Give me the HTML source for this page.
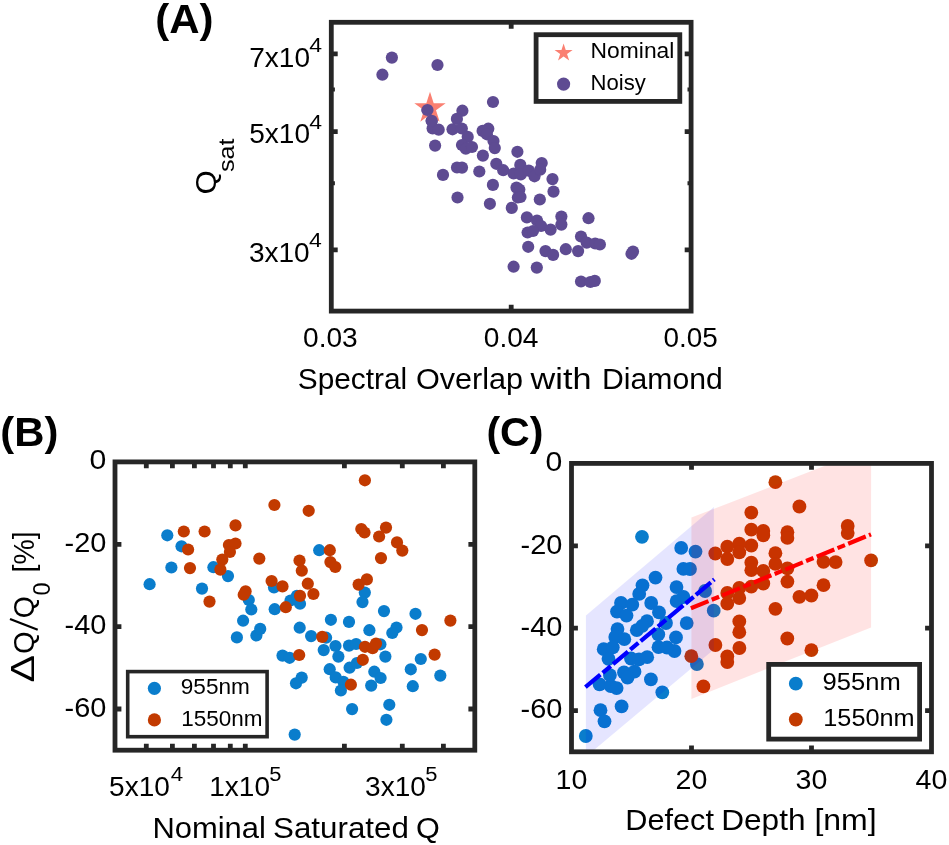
<!DOCTYPE html><html><head><meta charset="utf-8"><title>Figure</title><style>
html,body{margin:0;padding:0;background:#fff;width:949px;height:845px;overflow:hidden}
svg{display:block;will-change:transform}text{font-family:"Liberation Sans",sans-serif;fill:#000}
</style></head><body>
<svg width="949" height="845" viewBox="0 0 949 845">
<rect width="949" height="845" fill="#fff"/>
<text x="155.3" y="33.1" font-size="40.0" textLength="58.3" lengthAdjust="spacingAndGlyphs" font-weight="bold">(A)</text>
<rect x="331.3" y="22.3" width="359.8" height="288.8" fill="none" stroke="#262626" stroke-width="4.8" stroke-linejoin="miter"/><path d="M331.3,249.9H337.7 M691.1,249.9H684.7 M331.3,131.7H337.7 M691.1,131.7H684.7 M331.3,53.9H337.7 M691.1,53.9H684.7 M511.2,311.1V304.7 M511.2,22.3V28.7 " stroke="#262626" stroke-width="4.8"/>
<path d="M331.3,183.3H334.9 M691.1,183.3H687.5 M331.3,89.6H334.9 M691.1,89.6H687.5 " stroke="#262626" stroke-width="4.0"/>
<g>
<text x="249.2" y="67.0" font-size="28.5" textLength="60.8" lengthAdjust="spacingAndGlyphs" class="t">7x10</text>
<text x="309.3" y="51.6" font-size="20.5" textLength="12.8" lengthAdjust="spacingAndGlyphs">4</text>
<text x="249.2" y="143.3" font-size="28.5" textLength="60.8" lengthAdjust="spacingAndGlyphs" class="t">5x10</text>
<text x="309.3" y="129.0" font-size="20.5" textLength="12.8" lengthAdjust="spacingAndGlyphs">4</text>
<text x="248.9" y="261.9" font-size="28.5" textLength="60.8" lengthAdjust="spacingAndGlyphs" class="t">3x10</text>
<text x="309.0" y="247.0" font-size="20.5" textLength="12.8" lengthAdjust="spacingAndGlyphs">4</text>
<text x="303.0" y="347.3" font-size="28.5" textLength="54.7" lengthAdjust="spacingAndGlyphs" class="t">0.03</text>
<text x="483.8" y="347.3" font-size="28.5" textLength="54.7" lengthAdjust="spacingAndGlyphs" class="t">0.04</text>
<text x="663.4" y="347.3" font-size="28.5" textLength="54.3" lengthAdjust="spacingAndGlyphs" class="t">0.05</text>
<text x="297.8" y="389.2" font-size="30.0" textLength="109.4" lengthAdjust="spacingAndGlyphs" class="t">Spectral</text><text x="415.9" y="389.2" font-size="30.0" textLength="107.2" lengthAdjust="spacingAndGlyphs" class="t">Overlap</text><text x="530.6" y="389.2" font-size="30.0" textLength="60.9" lengthAdjust="spacingAndGlyphs" class="t">with</text><text x="602.0" y="389.2" font-size="30.0" textLength="120.8" lengthAdjust="spacingAndGlyphs" class="t">Diamond</text>
<g transform="translate(216,193) rotate(-90)"><text x="-1.4" y="0.0" font-size="29.0" textLength="24.3" lengthAdjust="spacingAndGlyphs" class="t">Q</text><text x="20.9" y="18.0" font-size="22.0" textLength="33.7" lengthAdjust="spacingAndGlyphs">sat</text></g>
</g>
<g fill="#5e4b92"><circle cx="391.9" cy="57.6" r="6.10"/><circle cx="382.4" cy="74.7" r="6.10"/><circle cx="437.5" cy="65.0" r="6.10"/><circle cx="427.5" cy="110.0" r="6.10"/><circle cx="431.7" cy="120.8" r="6.10"/><circle cx="432.6" cy="128.4" r="6.10"/><circle cx="438.7" cy="129.7" r="6.10"/><circle cx="435.1" cy="145.6" r="6.10"/><circle cx="462.4" cy="110.7" r="6.10"/><circle cx="456.9" cy="118.9" r="6.10"/><circle cx="452.5" cy="129.3" r="6.10"/><circle cx="461.8" cy="128.5" r="6.10"/><circle cx="467.7" cy="136.9" r="6.10"/><circle cx="462.0" cy="145.0" r="6.10"/><circle cx="465.8" cy="148.7" r="6.10"/><circle cx="472.0" cy="147.0" r="6.10"/><circle cx="493.0" cy="102.0" r="6.10"/><circle cx="488.3" cy="128.7" r="6.10"/><circle cx="482.6" cy="130.9" r="6.10"/><circle cx="486.9" cy="134.3" r="6.10"/><circle cx="493.5" cy="141.0" r="6.10"/><circle cx="494.8" cy="148.1" r="6.10"/><circle cx="482.9" cy="155.6" r="6.10"/><circle cx="496.3" cy="163.8" r="6.10"/><circle cx="503.2" cy="170.2" r="6.10"/><circle cx="457.0" cy="167.5" r="6.10"/><circle cx="462.0" cy="167.6" r="6.10"/><circle cx="479.3" cy="171.5" r="6.10"/><circle cx="443.0" cy="174.9" r="6.10"/><circle cx="492.9" cy="184.9" r="6.10"/><circle cx="489.9" cy="203.8" r="6.10"/><circle cx="457.5" cy="197.5" r="6.10"/><circle cx="517.4" cy="151.8" r="6.10"/><circle cx="513.6" cy="173.5" r="6.10"/><circle cx="520.3" cy="164.9" r="6.10"/><circle cx="520.8" cy="174.4" r="6.10"/><circle cx="528.8" cy="170.6" r="6.10"/><circle cx="534.5" cy="176.3" r="6.10"/><circle cx="541.7" cy="163.0" r="6.10"/><circle cx="540.2" cy="169.7" r="6.10"/><circle cx="552.5" cy="179.1" r="6.10"/><circle cx="553.5" cy="191.6" r="6.10"/><circle cx="539.8" cy="199.5" r="6.10"/><circle cx="516.5" cy="187.6" r="6.10"/><circle cx="519.3" cy="189.5" r="6.10"/><circle cx="517.9" cy="197.5" r="6.10"/><circle cx="511.8" cy="207.9" r="6.10"/><circle cx="526.9" cy="217.4" r="6.10"/><circle cx="537.0" cy="220.5" r="6.10"/><circle cx="541.1" cy="226.0" r="6.10"/><circle cx="550.6" cy="229.6" r="6.10"/><circle cx="561.4" cy="216.6" r="6.10"/><circle cx="561.4" cy="224.6" r="6.10"/><circle cx="527.6" cy="232.5" r="6.10"/><circle cx="533.0" cy="231.0" r="6.10"/><circle cx="588.5" cy="218.2" r="6.10"/><circle cx="581.0" cy="236.5" r="6.10"/><circle cx="586.7" cy="242.6" r="6.10"/><circle cx="595.2" cy="243.5" r="6.10"/><circle cx="599.9" cy="244.5" r="6.10"/><circle cx="578.1" cy="251.1" r="6.10"/><circle cx="565.8" cy="249.2" r="6.10"/><circle cx="545.5" cy="251.1" r="6.10"/><circle cx="553.1" cy="254.9" r="6.10"/><circle cx="528.2" cy="246.8" r="6.10"/><circle cx="513.6" cy="266.7" r="6.10"/><circle cx="536.8" cy="267.6" r="6.10"/><circle cx="581.0" cy="281.5" r="6.10"/><circle cx="590.4" cy="282.0" r="6.10"/><circle cx="594.8" cy="280.9" r="6.10"/><circle cx="633.0" cy="251.5" r="6.10"/><circle cx="631.5" cy="253.8" r="6.10"/><circle cx="520.5" cy="197.0" r="6.10"/></g>
<path d="M430.00,91.80 L433.70,103.20 L445.69,103.20 L435.99,110.25 L439.70,121.65 L430.00,114.60 L420.30,121.65 L424.01,110.25 L414.31,103.20 L426.30,103.20Z" fill="#fa8072"/>
<g fill="#5e4b92"><circle cx="431.7" cy="120.8" r="6.10"/><circle cx="427.5" cy="110.0" r="6.10"/></g>
<rect x="536.1" y="34.7" width="143.7" height="66.7" fill="#fff" stroke="#262626" stroke-width="4.8"/>
<path d="M563.60,43.40 L565.73,49.96 L572.64,49.96 L567.05,54.02 L569.18,60.59 L563.60,56.53 L558.02,60.59 L560.15,54.02 L554.56,49.96 L561.47,49.96Z" fill="#fa8072"/>
<circle cx="563.6" cy="84.1" r="6.6" fill="#5e4b92"/>
<text x="590.6" y="58.0" font-size="22.0" textLength="83.8" lengthAdjust="spacingAndGlyphs">Nominal</text>
<text x="590.6" y="90.2" font-size="22.0" textLength="55.3" lengthAdjust="spacingAndGlyphs">Noisy</text>
<text x="0.3" y="445.8" font-size="40.0" textLength="58.0" lengthAdjust="spacingAndGlyphs" font-weight="bold">(B)</text>
<rect x="115.0" y="461.9" width="359.8" height="288.3" fill="none" stroke="#262626" stroke-width="4.8" stroke-linejoin="miter"/><path d="M115.0,544.3H121.4 M474.8,544.3H468.4 M115.0,626.6H121.4 M474.8,626.6H468.4 M115.0,709.0H121.4 M474.8,709.0H468.4 M146.3,750.2V743.8 M146.3,461.9V468.3 M172.4,750.2V743.8 M172.4,461.9V468.3 M194.4,750.2V743.8 M194.4,461.9V468.3 M213.5,750.2V743.8 M213.5,461.9V468.3 M230.3,750.2V743.8 M230.3,461.9V468.3 M245.3,750.2V743.8 M245.3,461.9V468.3 M344.4,750.2V743.8 M344.4,461.9V468.3 M402.3,750.2V743.8 M402.3,461.9V468.3 M443.4,750.2V743.8 M443.4,461.9V468.3 " stroke="#262626" stroke-width="4.8"/>
<text x="106.4" y="469.4" font-size="28.5" textLength="16.8" lengthAdjust="spacingAndGlyphs" text-anchor="end" class="t">0</text>
<text x="106.4" y="551.8" font-size="28.5" textLength="41.8" lengthAdjust="spacingAndGlyphs" text-anchor="end" class="t">-20</text>
<text x="106.4" y="634.1" font-size="28.5" textLength="41.8" lengthAdjust="spacingAndGlyphs" text-anchor="end" class="t">-40</text>
<text x="106.4" y="716.5" font-size="28.5" textLength="41.8" lengthAdjust="spacingAndGlyphs" text-anchor="end" class="t">-60</text>
<text x="109.1" y="795.8" font-size="28.5" textLength="60.8" lengthAdjust="spacingAndGlyphs" class="t">5x10</text>
<text x="170.7" y="781.1" font-size="20.5" textLength="12.4" lengthAdjust="spacingAndGlyphs">4</text>
<text x="209.2" y="795.8" font-size="28.5" textLength="60.8" lengthAdjust="spacingAndGlyphs" class="t">1x10</text>
<text x="269.3" y="781.1" font-size="20.5" textLength="12.2" lengthAdjust="spacingAndGlyphs">5</text>
<text x="365.1" y="795.8" font-size="28.5" textLength="60.8" lengthAdjust="spacingAndGlyphs" class="t">3x10</text>
<text x="425.2" y="781.1" font-size="20.5" textLength="12.2" lengthAdjust="spacingAndGlyphs">5</text>
<text x="152.4" y="837.6" font-size="30.0" textLength="113.5" lengthAdjust="spacingAndGlyphs" class="t">Nominal</text><text x="273.1" y="837.6" font-size="30.0" textLength="135.7" lengthAdjust="spacingAndGlyphs" class="t">Saturated</text><text x="416.0" y="837.6" font-size="30.0" textLength="23.8" lengthAdjust="spacingAndGlyphs" class="t">Q</text>
<g transform="translate(34,681) rotate(-90)"><text x="-1.5" y="0.0" font-size="33.5" textLength="27.5" lengthAdjust="spacingAndGlyphs" class="t">&#916;</text><text x="27.1" y="0.0" font-size="29.0" textLength="22.7" lengthAdjust="spacingAndGlyphs" class="t">Q</text><path d="M51.3,3.7 L62,-24" stroke="#000" stroke-width="2.3"/><text x="62.7" y="0.0" font-size="29.0" textLength="22.0" lengthAdjust="spacingAndGlyphs" class="t">Q</text><text x="85.6" y="15.8" font-size="24.0" textLength="13.1" lengthAdjust="spacingAndGlyphs">0</text><text x="108.6" y="0.0" font-size="29.0" textLength="41.0" lengthAdjust="spacingAndGlyphs" class="t">[%]</text></g>
<g fill="#0a7dcc"><circle cx="167.3" cy="535.3" r="6.10"/><circle cx="181.5" cy="546.3" r="6.10"/><circle cx="171.4" cy="567.5" r="6.10"/><circle cx="149.6" cy="584.2" r="6.10"/><circle cx="213.4" cy="567.2" r="6.10"/><circle cx="228.0" cy="576.1" r="6.10"/><circle cx="202.0" cy="588.6" r="6.10"/><circle cx="248.8" cy="600.0" r="6.10"/><circle cx="274.0" cy="587.5" r="6.10"/><circle cx="274.7" cy="609.2" r="6.10"/><circle cx="290.5" cy="600.5" r="6.10"/><circle cx="300.0" cy="603.7" r="6.10"/><circle cx="296.9" cy="595.8" r="6.10"/><circle cx="251.3" cy="609.5" r="6.10"/><circle cx="243.1" cy="620.7" r="6.10"/><circle cx="236.9" cy="637.4" r="6.10"/><circle cx="256.4" cy="635.5" r="6.10"/><circle cx="260.2" cy="628.9" r="6.10"/><circle cx="282.5" cy="655.6" r="6.10"/><circle cx="289.6" cy="657.8" r="6.10"/><circle cx="301.7" cy="677.6" r="6.10"/><circle cx="296.0" cy="683.3" r="6.10"/><circle cx="294.7" cy="734.6" r="6.10"/><circle cx="364.8" cy="592.6" r="6.10"/><circle cx="362.5" cy="602.1" r="6.10"/><circle cx="384.0" cy="611.1" r="6.10"/><circle cx="415.5" cy="613.8" r="6.10"/><circle cx="330.9" cy="619.8" r="6.10"/><circle cx="349.0" cy="621.9" r="6.10"/><circle cx="369.4" cy="630.2" r="6.10"/><circle cx="396.5" cy="627.5" r="6.10"/><circle cx="392.3" cy="633.0" r="6.10"/><circle cx="299.7" cy="627.7" r="6.10"/><circle cx="311.1" cy="636.1" r="6.10"/><circle cx="326.1" cy="637.7" r="6.10"/><circle cx="323.7" cy="650.1" r="6.10"/><circle cx="335.5" cy="646.0" r="6.10"/><circle cx="338.4" cy="656.6" r="6.10"/><circle cx="349.0" cy="645.6" r="6.10"/><circle cx="356.1" cy="644.0" r="6.10"/><circle cx="380.4" cy="644.3" r="6.10"/><circle cx="385.4" cy="656.6" r="6.10"/><circle cx="349.6" cy="667.7" r="6.10"/><circle cx="356.9" cy="663.0" r="6.10"/><circle cx="329.7" cy="669.2" r="6.10"/><circle cx="335.7" cy="677.4" r="6.10"/><circle cx="343.4" cy="681.8" r="6.10"/><circle cx="340.9" cy="690.5" r="6.10"/><circle cx="374.3" cy="671.7" r="6.10"/><circle cx="380.6" cy="678.0" r="6.10"/><circle cx="371.2" cy="685.6" r="6.10"/><circle cx="410.8" cy="669.3" r="6.10"/><circle cx="412.8" cy="686.2" r="6.10"/><circle cx="420.8" cy="659.0" r="6.10"/><circle cx="440.3" cy="675.6" r="6.10"/><circle cx="389.3" cy="704.8" r="6.10"/><circle cx="386.4" cy="719.8" r="6.10"/><circle cx="352.1" cy="709.1" r="6.10"/><circle cx="319.2" cy="550.2" r="6.10"/></g>
<g fill="#c23a00"><circle cx="183.8" cy="531.5" r="6.10"/><circle cx="204.6" cy="531.5" r="6.10"/><circle cx="188.1" cy="549.5" r="6.10"/><circle cx="190.0" cy="568.1" r="6.10"/><circle cx="235.5" cy="525.4" r="6.10"/><circle cx="228.9" cy="545.0" r="6.10"/><circle cx="235.5" cy="543.5" r="6.10"/><circle cx="229.9" cy="552.0" r="6.10"/><circle cx="222.3" cy="559.6" r="6.10"/><circle cx="220.4" cy="569.6" r="6.10"/><circle cx="259.3" cy="558.6" r="6.10"/><circle cx="274.4" cy="505.0" r="6.10"/><circle cx="271.6" cy="581.0" r="6.10"/><circle cx="282.5" cy="586.4" r="6.10"/><circle cx="245.6" cy="591.3" r="6.10"/><circle cx="243.7" cy="594.7" r="6.10"/><circle cx="209.5" cy="601.6" r="6.10"/><circle cx="364.9" cy="480.3" r="6.10"/><circle cx="308.7" cy="510.8" r="6.10"/><circle cx="361.3" cy="529.0" r="6.10"/><circle cx="364.5" cy="532.5" r="6.10"/><circle cx="386.0" cy="527.6" r="6.10"/><circle cx="379.1" cy="536.5" r="6.10"/><circle cx="397.0" cy="542.4" r="6.10"/><circle cx="402.3" cy="550.6" r="6.10"/><circle cx="381.0" cy="558.1" r="6.10"/><circle cx="329.8" cy="550.2" r="6.10"/><circle cx="330.4" cy="562.1" r="6.10"/><circle cx="335.3" cy="567.0" r="6.10"/><circle cx="299.5" cy="560.5" r="6.10"/><circle cx="301.8" cy="570.7" r="6.10"/><circle cx="307.8" cy="583.7" r="6.10"/><circle cx="313.4" cy="594.0" r="6.10"/><circle cx="300.0" cy="595.9" r="6.10"/><circle cx="366.9" cy="579.4" r="6.10"/><circle cx="358.6" cy="584.6" r="6.10"/><circle cx="285.8" cy="607.2" r="6.10"/><circle cx="322.2" cy="636.9" r="6.10"/><circle cx="299.2" cy="655.0" r="6.10"/><circle cx="365.0" cy="646.8" r="6.10"/><circle cx="372.6" cy="648.2" r="6.10"/><circle cx="376.0" cy="643.6" r="6.10"/><circle cx="362.8" cy="659.8" r="6.10"/><circle cx="350.9" cy="684.7" r="6.10"/><circle cx="450.4" cy="620.6" r="6.10"/><circle cx="422.0" cy="630.1" r="6.10"/><circle cx="434.6" cy="654.6" r="6.10"/></g>
<rect x="127.7" y="671.6" width="139.4" height="65.1" fill="#fff" stroke="#262626" stroke-width="3.6"/>
<circle cx="154.4" cy="688.3" r="6.6" fill="#0a7dcc"/>
<circle cx="154.4" cy="719.9" r="6.6" fill="#c23a00"/>
<text x="180.8" y="694.3" font-size="22.0" textLength="69.1" lengthAdjust="spacingAndGlyphs">955nm</text>
<text x="181.3" y="726.2" font-size="22.0" textLength="81.3" lengthAdjust="spacingAndGlyphs">1550nm</text>
<text x="486.4" y="445.9" font-size="40.0" textLength="57.1" lengthAdjust="spacingAndGlyphs" font-weight="bold">(C)</text>
<defs><clipPath id="cc"><rect x="571.5" y="463.4" width="360.0" height="288.4"/></clipPath></defs>
<g fill="#0a7dcc"><circle cx="642.0" cy="536.8" r="6.90"/><circle cx="681.2" cy="547.9" r="6.90"/><circle cx="695.5" cy="551.6" r="6.90"/><circle cx="683.4" cy="568.9" r="6.90"/><circle cx="690.0" cy="569.0" r="6.90"/><circle cx="655.5" cy="577.6" r="6.90"/><circle cx="642.5" cy="585.3" r="6.90"/><circle cx="639.2" cy="593.9" r="6.90"/><circle cx="676.5" cy="587.1" r="6.90"/><circle cx="683.4" cy="597.0" r="6.90"/><circle cx="676.6" cy="601.1" r="6.90"/><circle cx="705.1" cy="591.0" r="6.90"/><circle cx="713.7" cy="610.7" r="6.90"/><circle cx="621.0" cy="603.0" r="6.90"/><circle cx="632.3" cy="604.7" r="6.90"/><circle cx="617.0" cy="611.6" r="6.90"/><circle cx="626.5" cy="615.6" r="6.90"/><circle cx="651.2" cy="603.0" r="6.90"/><circle cx="659.0" cy="612.4" r="6.90"/><circle cx="647.0" cy="621.2" r="6.90"/><circle cx="636.8" cy="630.2" r="6.90"/><circle cx="666.0" cy="623.0" r="6.90"/><circle cx="686.7" cy="623.1" r="6.90"/><circle cx="617.5" cy="629.1" r="6.90"/><circle cx="615.3" cy="637.0" r="6.90"/><circle cx="624.3" cy="639.2" r="6.90"/><circle cx="658.3" cy="634.3" r="6.90"/><circle cx="676.0" cy="637.4" r="6.90"/><circle cx="658.5" cy="647.2" r="6.90"/><circle cx="674.5" cy="651.0" r="6.90"/><circle cx="603.7" cy="649.2" r="6.90"/><circle cx="612.8" cy="647.3" r="6.90"/><circle cx="608.5" cy="658.8" r="6.90"/><circle cx="631.0" cy="658.5" r="6.90"/><circle cx="647.2" cy="657.2" r="6.90"/><circle cx="599.6" cy="684.3" r="6.90"/><circle cx="610.8" cy="686.0" r="6.90"/><circle cx="616.6" cy="688.1" r="6.90"/><circle cx="609.9" cy="675.1" r="6.90"/><circle cx="624.0" cy="672.5" r="6.90"/><circle cx="634.5" cy="671.7" r="6.90"/><circle cx="627.5" cy="677.5" r="6.90"/><circle cx="650.9" cy="679.4" r="6.90"/><circle cx="662.3" cy="692.3" r="6.90"/><circle cx="642.3" cy="625.8" r="6.90"/><circle cx="667.0" cy="647.5" r="6.90"/><circle cx="639.0" cy="659.3" r="6.90"/><circle cx="621.6" cy="706.4" r="6.90"/><circle cx="600.5" cy="710.2" r="6.90"/><circle cx="604.5" cy="721.3" r="6.90"/><circle cx="585.8" cy="736.0" r="6.90"/><circle cx="696.9" cy="664.1" r="6.90"/></g>
<g fill="#c23a00"><circle cx="775.4" cy="482.2" r="6.90"/><circle cx="799.4" cy="506.5" r="6.90"/><circle cx="751.3" cy="512.6" r="6.90"/><circle cx="751.3" cy="529.7" r="6.90"/><circle cx="763.3" cy="530.9" r="6.90"/><circle cx="763.3" cy="535.3" r="6.90"/><circle cx="787.4" cy="532.2" r="6.90"/><circle cx="787.4" cy="537.9" r="6.90"/><circle cx="751.3" cy="545.5" r="6.90"/><circle cx="739.3" cy="543.6" r="6.90"/><circle cx="739.3" cy="552.4" r="6.90"/><circle cx="727.3" cy="546.7" r="6.90"/><circle cx="715.3" cy="553.5" r="6.90"/><circle cx="727.3" cy="559.0" r="6.90"/><circle cx="775.4" cy="553.2" r="6.90"/><circle cx="775.4" cy="563.9" r="6.90"/><circle cx="751.3" cy="562.6" r="6.90"/><circle cx="751.3" cy="570.2" r="6.90"/><circle cx="763.3" cy="570.9" r="6.90"/><circle cx="763.3" cy="583.5" r="6.90"/><circle cx="787.4" cy="568.3" r="6.90"/><circle cx="787.4" cy="581.6" r="6.90"/><circle cx="751.3" cy="586.7" r="6.90"/><circle cx="739.3" cy="587.9" r="6.90"/><circle cx="727.3" cy="593.0" r="6.90"/><circle cx="739.3" cy="598.1" r="6.90"/><circle cx="727.3" cy="603.7" r="6.90"/><circle cx="799.4" cy="596.8" r="6.90"/><circle cx="811.4" cy="595.5" r="6.90"/><circle cx="775.4" cy="608.8" r="6.90"/><circle cx="739.3" cy="621.4" r="6.90"/><circle cx="739.3" cy="632.2" r="6.90"/><circle cx="787.3" cy="638.5" r="6.90"/><circle cx="715.4" cy="645.0" r="6.90"/><circle cx="739.4" cy="648.0" r="6.90"/><circle cx="727.3" cy="656.3" r="6.90"/><circle cx="727.3" cy="662.0" r="6.90"/><circle cx="691.3" cy="656.2" r="6.90"/><circle cx="703.4" cy="686.4" r="6.90"/><circle cx="847.7" cy="526.0" r="6.90"/><circle cx="847.7" cy="533.1" r="6.90"/><circle cx="823.5" cy="561.8" r="6.90"/><circle cx="835.6" cy="562.1" r="6.90"/><circle cx="871.1" cy="560.4" r="6.90"/><circle cx="823.5" cy="585.2" r="6.90"/><circle cx="811.4" cy="650.2" r="6.90"/></g>
<g clip-path="url(#cc)">
<polygon points="585.9,615.6 713.9,507.1 713.9,649.6 585.9,756.8" fill="#0000ff" fill-opacity="0.1"/>
<polygon points="691.4,517.6 871.1,447.8 871.1,627.5 691.4,698.9" fill="#ff0000" fill-opacity="0.11"/>
</g>
<path d="M585.4,687.2 L714.4,579.4" stroke="#0000ff" stroke-width="4.2" stroke-dasharray="19.5 3 10.5 3" fill="none"/>
<path d="M690.9,608.3 L871.0,534.4" stroke="#ff0000" stroke-width="4.2" stroke-dasharray="19 3.5 8 3.5" fill="none"/>
<rect x="571.5" y="463.4" width="360.0" height="288.4" fill="none" stroke="#262626" stroke-width="4.8" stroke-linejoin="miter"/><path d="M571.5,545.8H577.9 M931.5,545.8H925.1 M571.5,628.2H577.9 M931.5,628.2H925.1 M571.5,710.6H577.9 M931.5,710.6H925.1 M691.5,751.8V745.4 M691.5,463.4V469.8 M811.5,751.8V745.4 M811.5,463.4V469.8 " stroke="#262626" stroke-width="4.8"/>
<text x="562.4" y="471.2" font-size="28.5" textLength="16.8" lengthAdjust="spacingAndGlyphs" text-anchor="end" class="t">0</text>
<text x="562.4" y="553.6" font-size="28.5" textLength="41.8" lengthAdjust="spacingAndGlyphs" text-anchor="end" class="t">-20</text>
<text x="562.4" y="636.0" font-size="28.5" textLength="41.8" lengthAdjust="spacingAndGlyphs" text-anchor="end" class="t">-40</text>
<text x="562.4" y="718.4" font-size="28.5" textLength="41.8" lengthAdjust="spacingAndGlyphs" text-anchor="end" class="t">-60</text>
<text x="571.5" y="788.8" font-size="28.5" textLength="31.8" lengthAdjust="spacingAndGlyphs" text-anchor="middle" class="t">10</text>
<text x="691.5" y="788.8" font-size="28.5" textLength="31.8" lengthAdjust="spacingAndGlyphs" text-anchor="middle" class="t">20</text>
<text x="811.5" y="788.8" font-size="28.5" textLength="31.8" lengthAdjust="spacingAndGlyphs" text-anchor="middle" class="t">30</text>
<text x="931.5" y="788.8" font-size="28.5" textLength="31.8" lengthAdjust="spacingAndGlyphs" text-anchor="middle" class="t">40</text>
<text x="625.3" y="829.6" font-size="30.0" textLength="88.7" lengthAdjust="spacingAndGlyphs" class="t">Defect</text><text x="721.2" y="829.6" font-size="30.0" textLength="84.3" lengthAdjust="spacingAndGlyphs" class="t">Depth</text><text x="814.4" y="829.6" font-size="30.0" textLength="62.3" lengthAdjust="spacingAndGlyphs" class="t">[nm]</text>
<rect x="768.7" y="664.4" width="150.9" height="74.7" fill="#fff" stroke="#262626" stroke-width="4.8"/>
<circle cx="795.8" cy="683.7" r="6.9" fill="#0a7dcc"/>
<circle cx="795.8" cy="719.5" r="6.9" fill="#c23a00"/>
<text x="822.6" y="690.4" font-size="24.5" textLength="78.1" lengthAdjust="spacingAndGlyphs">955nm</text>
<text x="823.3" y="725.9" font-size="24.5" textLength="91.3" lengthAdjust="spacingAndGlyphs">1550nm</text>
</svg></body></html>
